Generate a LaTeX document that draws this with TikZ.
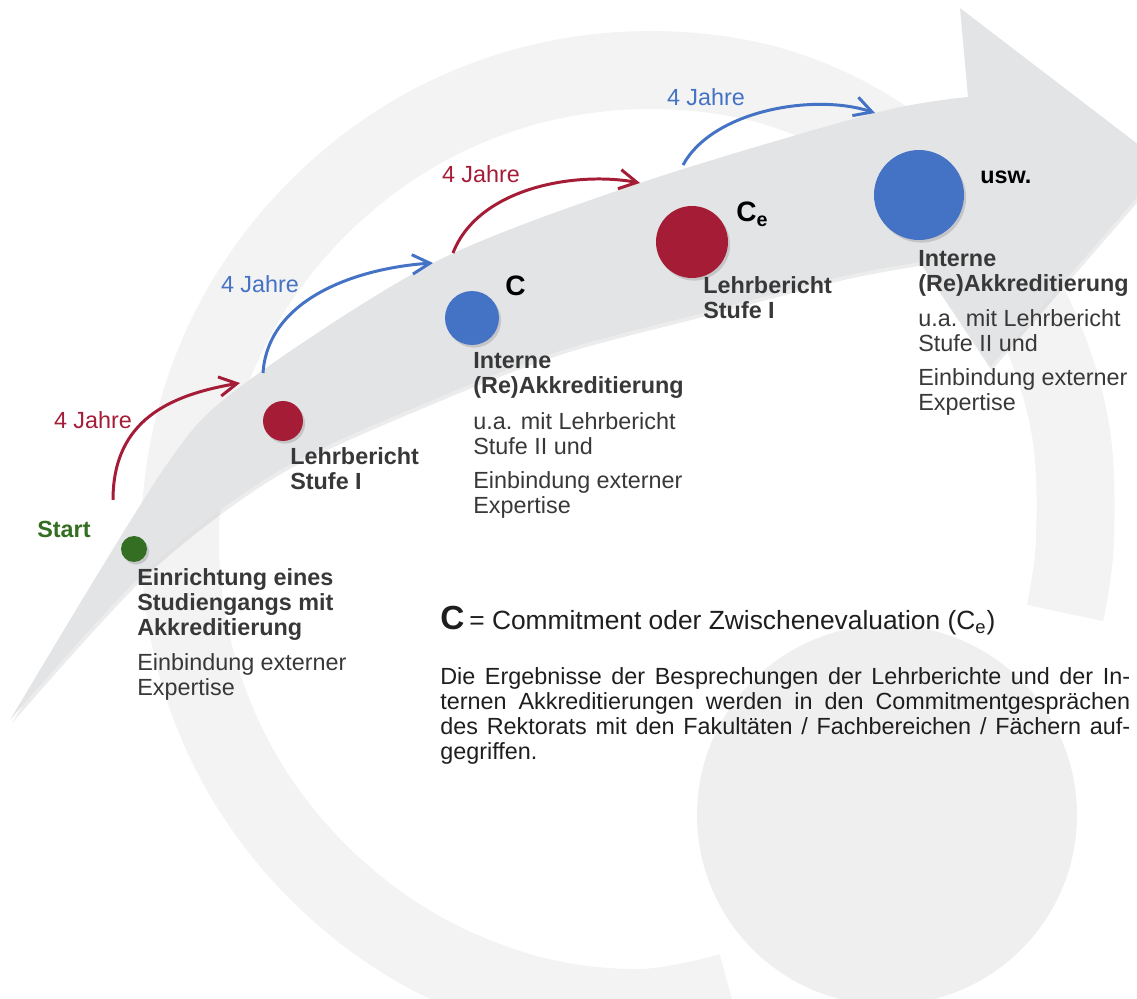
\documentclass[tikz,border=0pt]{standalone}
\usepackage{fontspec}
\setmainfont{Liberation Sans}
\usetikzlibrary{arrows.meta, positioning, shadows}

\definecolor{ringgray}{HTML}{F3F3F3}
\definecolor{ballgray}{HTML}{EFEFEF}
\definecolor{arrowgray}{HTML}{E3E4E6}
\definecolor{stagered}{HTML}{A51C36}
\definecolor{stageblue}{HTML}{4472C4}
\definecolor{stagegreen}{HTML}{336E22}
\definecolor{labelgray}{HTML}{383838}
\definecolor{notegray}{HTML}{1E1E1E}

\newcommand{\labelsize}{\fontsize{13.3}{14.2}\selectfont}

\tikzstyle{ringband} = [draw=ringgray, line width=1.56cm]
\tikzstyle{stagedot} = [circle, inner sep=0pt, drop shadow={shadow xshift=1.2pt, shadow yshift=-1.5pt, opacity=0.3}]
\tikzstyle{headtxt} = [anchor=north west, inner sep=0pt, align=left, text=labelgray, font=\labelsize\bfseries]
\tikzstyle{subtxt} = [anchor=north west, inner sep=0pt, align=left, text=labelgray, font=\labelsize]
\tikzstyle{yearlabel} = [inner sep=0pt, font=\labelsize]
\tikzstyle{clabel} = [anchor=base west, inner sep=0pt, font=\fontsize{16}{17}\selectfont\bfseries]
\tikzstyle{yeararrow} = [line width=1.7pt, -{Straight Barb[length=10pt, width=11pt]}]

\begin{document}
\begin{tikzpicture}[x=0.02cm, y=-0.02cm]
    \useasboundingbox (0,0) rectangle (1137,999);
    \clip (0,0) rectangle (1137,999);

    \draw [ringband] plot[smooth, tension=0.6] coordinates {(1065,613) (1075,540) (1070,427) (1035,318) (972,218) (882,137) (772,86) (650,70) (528,86) (415,133) (318,208) (243,305) (196,418) (180,540) (196,662) (243,775) (318,872) (415,947) (528,994) (640,1008) (730,992)};
    \fill [ballgray] (887,815) circle[radius=190];

    \fill [arrowgray, drop shadow={shadow xshift=1pt, shadow yshift=-2pt, opacity=0.15}]
        plot[smooth] coordinates {(10,720) (163,470) (240,387) (433,263) (640,183) (875,113) (968,97)}
        -- (960,8) -- (1165,165) -- (990,367)
        -- plot[smooth] coordinates {(920,262) (840,277) (703,313) (563,350) (440,397) (280,470) (147,570) (10,720)} -- cycle;

    \node (start-dot) [stagedot, fill=stagegreen, minimum size=0.52cm] at (134,549) {};
    \node (lb1-dot) [stagedot, fill=stagered, minimum size=0.8cm] at (283,421) {};
    \node (ia1-dot) [stagedot, fill=stageblue, minimum size=1.08cm] at (472,318) {};
    \node (lb2-dot) [stagedot, fill=stagered, minimum size=1.44cm] at (692,242) {};
    \node (ia2-dot) [stagedot, fill=stageblue, minimum size=1.8cm] at (919,195) {};

    \node (start-lbl) [inner sep=0pt, text=stagegreen, font=\labelsize\bfseries] at (64,529) {Start};
    \node (start-head) [headtxt] at (137,568) {Einrichtung eines\\Studiengangs mit\\Akkreditierung};
    \node (start-sub) [subtxt] at (137,653) {Einbindung externer\\Expertise};

    \node (lb1-head) [headtxt] at (290,447) {Lehrbericht\\Stufe I};

    \node (ia1-c) [clabel] at (505,296) {C};
    \node (ia1-head) [headtxt] at (473,352) {Interne\\(Re)Akkreditierung};
    \node (ia1-sub1) [subtxt] at (473,412) {u.a. mit Lehrbericht\\Stufe II und};
    \node (ia1-sub2) [subtxt] at (473,471) {Einbindung externer\\Expertise};

    \node (lb2-c) [clabel] at (736,222) {C\textsubscript{e}};
    \node (lb2-head) [headtxt] at (703,276) {Lehrbericht\\Stufe I};

    \node (ia2-usw) [anchor=base west, inner sep=0pt, font=\labelsize\bfseries] at (980,184) {usw.};
    \node (ia2-head) [headtxt] at (918,250) {Interne\\(Re)Akkreditierung};
    \node (ia2-sub1) [subtxt] at (918,309) {u.a. mit Lehrbericht\\Stufe II und};
    \node (ia2-sub2) [subtxt] at (918,368) {Einbindung externer\\Expertise};

    \coordinate (j1-from) at (113,500);
    \coordinate (j1-to) at (240,383);
    \coordinate (j2-from) at (263,373);
    \coordinate (j2-to) at (433,263);
    \coordinate (j3-from) at (453,253);
    \coordinate (j3-to) at (640,183);
    \coordinate (j4-from) at (683,165);
    \coordinate (j4-to) at (875,113);

    \draw [yeararrow, stagered] (j1-from) .. controls +(0,-80) and +(-70,12) .. (j1-to);
    \draw [yeararrow, stageblue] (j2-from) .. controls +(5,-75) and +(-75,5) .. (j2-to);
    \draw [yeararrow, stagered] (j3-from) .. controls +(25,-65) and +(-65,-12) .. (j3-to);
    \draw [yeararrow, stageblue] (j4-from) .. controls +(30,-55) and +(-60,-20) .. (j4-to);

    \node (j1-lbl) [yearlabel, text=stagered] at (93,420) {4 Jahre};
    \node (j2-lbl) [yearlabel, text=stageblue] at (260,284) {4 Jahre};
    \node (j3-lbl) [yearlabel, text=stagered] at (481,174) {4 Jahre};
    \node (j4-lbl) [yearlabel, text=stageblue] at (706,97) {4 Jahre};

    \node (legend-txt) [anchor=west, inner sep=0pt, text=notegray] at (440,621) {{\fontsize{19}{20}\selectfont\bfseries C} {\fontsize{15}{16}\selectfont = Commitment oder Zwischenevaluation (C\textsubscript{e})}};
    \node (note-txt) [anchor=north west, inner sep=0pt, text width=13.8cm, align=justify, text=notegray, font=\labelsize] at (440,667) {Die Ergebnisse der Besprechungen der Lehrberichte und der In-\linebreak ternen Akkreditierungen werden in den Commitmentgesprächen\linebreak des Rektorats mit den Fakultäten / Fachbereichen / Fächern auf-\linebreak gegriffen.};
\end{tikzpicture}
\end{document}
